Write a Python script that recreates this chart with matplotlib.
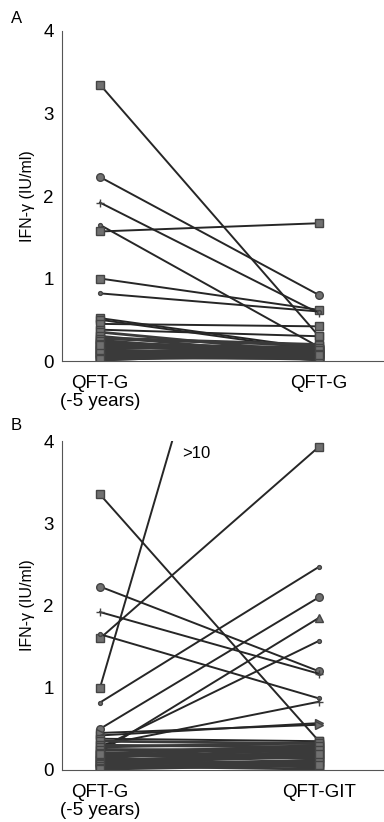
import matplotlib
matplotlib.use("Agg")
import matplotlib.pyplot as plt

plt.rcParams['font.family'] = ['Liberation Sans', 'DejaVu Sans']

# panel A: QFT-G (-5 years) -> QFT-G
a_before = [3.35, 2.23, 1.92, 1.65, 1.57, 1.00, 0.82, 0.52, 0.50, 0.45, 0.38, 0.35,
            0.28, 0.25, 0.22, 0.20, 0.18, 0.15, 0.12, 0.10, 0.08, 0.06, 0.04, 0.02, 0.01,
            0.30, 0.27, 0.24, 0.21, 0.17, 0.14, 0.11, 0.09, 0.07, 0.05, 0.03, 0.13, 0.19]
a_after = [0.30, 0.80, 0.58, 0.17, 1.67, 0.62, 0.60, 0.15, 0.13, 0.42, 0.30, 0.10,
           0.20, 0.05, 0.15, 0.08, 0.12, 0.18, 0.02, 0.05, 0.15, 0.10, 0.03, 0.07, 0.12,
           0.06, 0.19, 0.01, 0.09, 0.14, 0.04, 0.16, 0.11, 0.02, 0.13, 0.08, 0.03, 0.07]
a_labels = ["QFT-G\n(-5 years)", "QFT-G"]

# panel B: QFT-G (-5 years) -> QFT-GIT
b_before = [1.00, 3.35, 1.60, 2.23, 1.92, 1.65, 0.82, 0.50, 0.22, 0.27, 0.30, 0.42, 0.45,
            0.38, 0.35, 0.30, 0.25, 0.20, 0.18, 0.15, 0.12, 0.10, 0.08, 0.06, 0.04, 0.02,
            0.28, 0.24, 0.21, 0.17, 0.14, 0.11, 0.09, 0.07, 0.05, 0.03, 0.01, 0.19]
b_after = [10.1, 0.35, 3.93, 1.20, 1.17, 0.87, 2.47, 2.10, 1.85, 1.57, 0.83, 0.57, 0.55,
           0.35, 0.32, 0.28, 0.22, 0.30, 0.15, 0.25, 0.18, 0.10, 0.20, 0.12, 0.05, 0.08,
           0.33, 0.26, 0.14, 0.29, 0.03, 0.21, 0.16, 0.24, 0.01, 0.11, 0.06, 0.19]
b_labels = ["QFT-G\n(-5 years)", "QFT-GIT"]

yticks = [0, 1, 2, 3, 4]

a_marks = ['s', 'o', '+', '.', 's', 's', '.']
b_marks = ['s', 's', 's', 'o', '+', '.', '.', 'o', '^', '.', '+', '>', '>']

fig = plt.figure(figsize=(3.84, 8.22), dpi=100)
ax1 = fig.add_axes([0.1615, 0.5608, 0.8385, 0.4015])
ax2 = fig.add_axes([0.1615, 0.0633, 0.8385, 0.4002])


def draw(ax, before, after, marks, labels):
    for i in range(len(before)):
        m = marks[i] if i < len(marks) else 's'
        low = max(before[i], after[i]) < 0.36
        ax.plot([0, 1], [before[i], after[i]], color='#3a3a3a' if low else '#262626',
                lw=2.0 if low else 1.4,
                marker=m, ms=5.5, mfc='#707070', mec='#444444', mew=1.0)
    ax.set_xlim(-0.1735, 1.297)
    ax.set_ylim(0, 4)
    ax.set_yticks(yticks)
    ax.set_xticks([0, 1])
    ax.set_xticklabels(labels, linespacing=1.05)
    ax.tick_params(axis='y', length=0, pad=6, labelsize=13.5)
    ax.tick_params(axis='x', length=0, pad=10, labelsize=13.5)
    ax.spines['top'].set_visible(False)
    ax.spines['right'].set_visible(False)
    ax.spines['left'].set_color('#555555')
    ax.spines['bottom'].set_color('#555555')
    ax.set_ylabel('IFN-γ (IU/ml)', fontsize=11.5, labelpad=6)


draw(ax1, a_before, a_after, a_marks, a_labels)
draw(ax2, b_before, b_after, b_marks, b_labels)

ax2.text(0.375, 3.85, '>10', fontsize=12, ha='left', va='center')
fig.text(0.042, 0.978, 'A', fontsize=12, ha='center', va='center')
fig.text(0.042, 0.482, 'B', fontsize=12, ha='center', va='center')

fig.savefig('out.png', dpi=100)
